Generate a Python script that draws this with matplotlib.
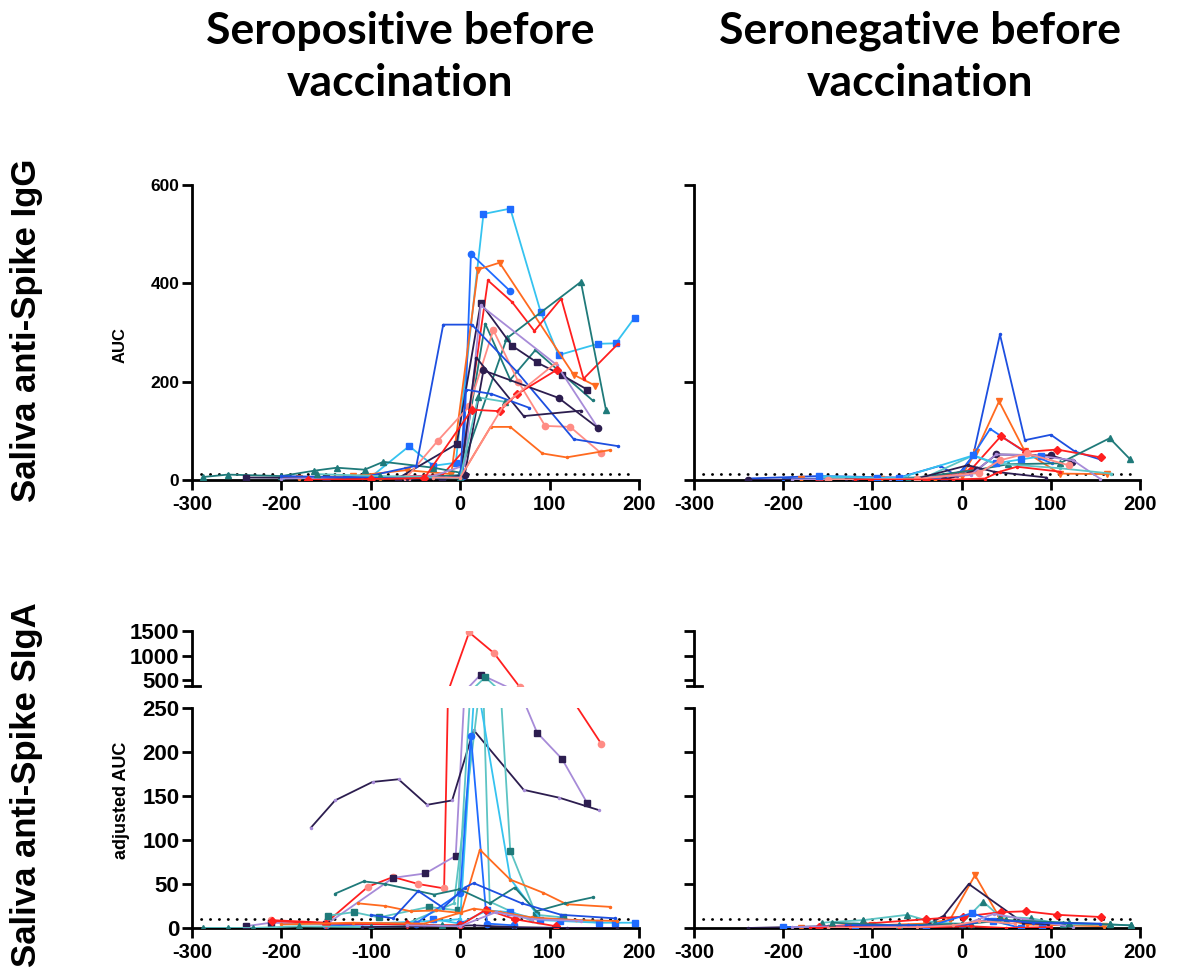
import matplotlib
matplotlib.use("Agg")
import matplotlib.pyplot as plt
from matplotlib.lines import Line2D

# --- colours -------------------------------------------------------------
CYAN = "#35c3f0"
BLUE = "#1d4fe0"
DODGER = "#1f6bff"
ORANGE = "#ff6a1f"
RED = "#ff1f1f"
SALMON = "#ff8c85"
NAVY = "#2c1d4f"
LAVENDER = "#a78bd8"
TEAL = "#1f7a7a"
LTEAL = "#5cc4c4"

# --- saliva anti-Spike IgG, seropositive before vaccination --------------
IGG_POS_DAYS = [
    [-150, -100, -57, -30, -5, 26, 56, 90, 110, 154, 174, 195],
    [-60, -20, 3, 12, 56],
    [-180, -120, -60, -10, 20, 44, 127, 151],
    [-150, -80, -20, 4, 31, 58, 83, 113, 138, 176],
    [-288, -260, -200, -163, -138, -107, -86, -30, 0, 52, 135, 163],
    [-100, -40, 0, 28, 56, 84, 148],
    [-240, -150, -70, -4, 23, 58, 86, 114, 142],
    [-200, -100, -30, 5, 23, 108, 154],
    [-60, -25, 10, 37, 65, 95, 123, 158],
    [-90, 0, 34, 56, 92, 119, 168],
    [-200, -110, -49, -19, 13, 63, 127, 176],
    [-60, 0, 18, 71, 135],
    [-20, 5, 26, 110, 154],
    [-130, 0, 6, 35, 77],
    [-160, -90, 0, 20, 50],
    [-170, -100, -40, 13, 44, 63, 108],
    [-30, 0, 49, 107],
]
IGG_POS_AUC = [
    [4, 6, 69, 29, 35, 541, 552, 342, 254, 277, 278, 330],
    [3, 5, 8, 460, 384],
    [5, 8, 20, 12, 428, 442, 214, 192],
    [3, 6, 10, 60, 406, 362, 303, 369, 206, 276],
    [6, 11, 8, 19, 25, 21, 37, 25, 15, 288, 403, 143],
    [3, 6, 10, 318, 204, 264, 162],
    [5, 4, 3, 73, 360, 273, 239, 213, 184],
    [3, 6, 8, 30, 355, 234, 106],
    [5, 80, 150, 305, 200, 110, 108, 54],
    [3, 5, 108, 108, 54, 46, 61],
    [8, 5, 29, 316, 316, 221, 83, 69],
    [3, 5, 249, 130, 141],
    [3, 10, 223, 167, 106],
    [6, 5, 184, 175, 147],
    [12, 8, 4, 168, 159],
    [0, 2, 4, 143, 140, 174, 224],
    [5, 5, 153, 238],
]
IGG_POS_COLORS = [CYAN, DODGER, ORANGE, RED, TEAL, TEAL, NAVY, LAVENDER, SALMON,
                  ORANGE, BLUE, NAVY, NAVY, BLUE, LTEAL, RED, SALMON]
IGG_POS_MARKERS = ["s", "o", "v", ".", "^", ".", "s", ".", "o",
                   ".", ".", ".", "o", ".", "^", "D", "."]
IGG_POS_MCOLORS = [DODGER, DODGER, ORANGE, RED, TEAL, TEAL, NAVY, LAVENDER, SALMON,
                   ORANGE, BLUE, NAVY, NAVY, BLUE, TEAL, RED, SALMON]

# --- saliva anti-Spike IgG, seronegative before vaccination --------------
IGG_NEG_DAYS = [
    [-240, -160, -70, -24, -5, 13, 43, 71, 100, 127, 155],
    [-180, -90, -30, 0, 16, 42, 71, 110, 163],
    [-200, -100, -20, 2, 32, 71, 101],
    [-160, -100, -40, 10, 44, 72, 107, 156],
    [-150, -60, 15, 52, 110, 166, 189],
    [-240, -120, -20, 17, 39, 100, 124],
    [-190, -80, 10, 39, 84, 125, 155],
    [-160, -90, -40, 13, 36, 110, 168],
    [-130, -50, 7, 36, 95],
    [-160, -95, -70, 13, 39, 67, 89],
    [-150, -50, 20, 43, 73, 120],
    [-120, -10, 26, 43, 62, 110],
]
IGG_NEG_AUC = [
    [3, 8, 5, 29, 8, 50, 296, 81, 92, 58, 42],
    [2, 3, 3, 8, 57, 160, 58, 13, 12],
    [2, 4, 3, 20, 104, 57, 34],
    [2, 1, 3, 20, 89, 57, 62, 46],
    [2, 3, 20, 32, 34, 85, 42],
    [0, 2, 0, 20, 52, 50, 37],
    [1, 2, 10, 52, 50, 40, 3],
    [5, 4, 6, 50, 34, 24, 13],
    [2, 3, 30, 17, 5],
    [8, 5, 4, 50, 34, 42, 48],
    [1, 2, 15, 40, 54, 30],
    [0, 1, 3, 17, 27, 17],
]
IGG_NEG_COLORS = [BLUE, ORANGE, DODGER, RED, TEAL, NAVY, LAVENDER, LTEAL, NAVY,
                  CYAN, SALMON, RED]
IGG_NEG_MARKERS = [".", "v", ".", "D", "^", "o", ".", ".", ".", "s", "o", "."]
IGG_NEG_MCOLORS = [BLUE, ORANGE, DODGER, RED, TEAL, NAVY, LAVENDER, LTEAL, NAVY,
                   DODGER, SALMON, RED]

# --- saliva anti-Spike SIgA, seropositive before vaccination -------------
SIGA_POS_DAYS = [
    [-212, -150, -103, -75, -47, -18, 10, 38, 67, 158],
    [-240, -212, -150, -75, -39, -5, 23, 62, 86, 114, 142],
    [-167, -140, -98, -69, -37, -9, 15, 71, 111, 155],
    [-148, -119, -91, -35, -3, 28, 56, 85, 115],
    [-60, -7, 25, 33, 80],
    [-100, -30, 0, 17, 56, 90, 150],
    [-150, -50, 0, 12, 30, 60],
    [-114, -84, -55, -27, 1, 22, 56, 93, 119, 168],
    [-140, -108, -84, -29, -1, 33, 61, 85, 117, 149],
    [-100, -75, -47, -19, 5, 15, 69, 113, 173],
    [-30, 0, 30, 56, 89, 112, 155, 173, 195],
    [-210, -150, -60, 0, 29, 61, 107],
    [-200, -120, -40, 15, 45, 80, 130, 175],
    [-288, -260, -232, -180, -100, -20],
    [-110, -40, 15, 60, 120, 175],
    [-60, 0, 40, 80, 135],
]
SIGA_POS_AUC = [
    [9, 6, 47, 58, 50, 45, 1473, 1046, 350, 209],
    [2, 6, 4, 57, 62, 82, 613, 280, 222, 192, 142],
    [114, 145, 166, 169, 140, 145, 225, 157, 148, 134],
    [14, 18, 12, 24, 20, 560, 88, 15, 12],
    [5, 28, 300, 30, 8],
    [5, 8, 10, 290, 56, 10, 8],
    [3, 5, 40, 218, 5, 3],
    [28, 25, 19, 20, 17, 89, 55, 40, 27, 24],
    [39, 53, 50, 38, 44, 28, 46, 19, 28, 35],
    [15, 11, 42, 23, 46, 51, 28, 15, 11],
    [10, 5, 20, 18, 9, 8, 6, 6, 6],
    [8, 5, 4, 3, 21, 10, 2],
    [4, 6, 5, 22, 18, 12, 9, 8],
    [0, 0, 0, 2, 1, 3],
    [1, 2, 3, 1, 0, 0],
    [3, 2, 18, 10, 8],
]
SIGA_POS_COLORS = [RED, LAVENDER, NAVY, LTEAL, LTEAL, CYAN, DODGER, ORANGE, TEAL,
                   BLUE, CYAN, RED, ORANGE, LTEAL, NAVY, LAVENDER]
SIGA_POS_MARKERS = ["o", "s", ".", "s", ".", ".", "o", ".", ".",
                    ".", "s", "D", ".", "^", ".", "."]
SIGA_POS_MCOLORS = [SALMON, NAVY, LAVENDER, TEAL, LTEAL, CYAN, DODGER, ORANGE, TEAL,
                    BLUE, DODGER, RED, ORANGE, TEAL, NAVY, LAVENDER]

# --- saliva anti-Spike SIgA, seronegative before vaccination -------------
SIGA_NEG_DAYS = [
    [-180, -100, -40, -13, 15, 43, 73, 160],
    [-240, -150, -45, -20, 8, 69, 97],
    [-157, -110, -61, -30, 0, 24, 43, 78, 114, 166, 190],
    [-160, -40, 2, 44, 72, 107, 156],
    [-200, -120, -40, 12, 35, 67, 90],
    [-190, -100, 0, 36, 70, 125],
    [-145, -70, 10, 50, 120, 166, 190],
    [-130, -60, 0, 30, 80, 155],
    [-170, -125, -70, 10, 50, 100],
    [-150, -50, -10, 20, 60],
]
SIGA_NEG_AUC = [
    [0, 3, 5, 9.5, 60, 11, 4, 2],
    [0, 2, 0, 14, 50, 6, 4],
    [6, 9, 15, 6, 5, 30, 13, 11, 4, 4, 3],
    [1, 10, 13, 18, 19, 15, 12.5],
    [1, 2, 1, 17, 8, 0, 0],
    [1, 2, 3, 16, 10, 1],
    [6, 3, 5, 9, 6, 4, 3],
    [3, 3, 2, 10, 6, 5],
    [0, 1, 0, 2, 0, 1],
    [0, 1, 3, 8, 5],
]
SIGA_NEG_COLORS = [ORANGE, NAVY, LTEAL, RED, DODGER, LAVENDER, TEAL, BLUE, RED, SALMON]
SIGA_NEG_MARKERS = ["v", ".", "^", "D", "s", ".", "^", ".", ".", "."]
SIGA_NEG_MCOLORS = [ORANGE, NAVY, TEAL, RED, DODGER, LAVENDER, TEAL, BLUE, RED, SALMON]

XTICKS = [-300, -200, -100, 0, 100, 200]
IGG_YTICKS = [0, 200, 400, 600]
SIGA_LOW_YTICKS = [0, 50, 100, 150, 200, 250]
SIGA_HIGH_YTICKS = [500, 1000, 1500]
IGG_CUTOFF = 13
SIGA_CUTOFF = 10

plt.rcParams["font.family"] = ["Liberation Sans", "DejaVu Sans"]
plt.rcParams["font.weight"] = "bold"
plt.rcParams["axes.unicode_minus"] = False

W, H = 1178, 975
fig = plt.figure(figsize=(W / 100, H / 100), dpi=100)


def px_axes(x0, x1, ytop, ybot):
    return fig.add_axes([x0 / W, 1 - ybot / H, (x1 - x0) / W, (ybot - ytop) / H])


def style(ax, bottom=True, ylabels=True, yfs=16):
    ax.spines[["top", "right"]].set_visible(False)
    ax.spines["left"].set_linewidth(2)
    ax.spines["bottom"].set_linewidth(2)
    ax.spines["bottom"].set_visible(bottom)
    ax.set_xlim(-300, 200)
    ax.tick_params(width=2, length=7, labelsize=14.5)
    ax.tick_params(axis="y", labelsize=yfs, labelleft=ylabels, pad=2)
    if bottom:
        ax.set_xticks(XTICKS)
    else:
        ax.tick_params(axis="x", bottom=False, labelbottom=False)


def draw(ax, days, vals, colors, markers, mcolors):
    for d, v, c, m, mc in zip(days, vals, colors, markers, mcolors):
        ms = 3 if m == "." else 4.5
        ax.plot(d, v, color=c, lw=1.3, marker=m, ms=ms, mfc=mc, mec=mc, zorder=3)


def cutoff(ax, level):
    ax.plot([-290, 192], [level, level], color="black", lw=2,
            linestyle=(0, (0.1, 3.1)), dash_capstyle="round", zorder=2)


def break_mark(x_px, y_px):
    fig.add_artist(Line2D([(x_px - 7) / W, (x_px + 8) / W], [1 - y_px / H] * 2,
                          color="black", lw=2, transform=fig.transFigure))


# top row: IgG
for x0, x1, days, vals, cols, mks, mcs, lab in [
    (192, 639, IGG_POS_DAYS, IGG_POS_AUC, IGG_POS_COLORS, IGG_POS_MARKERS, IGG_POS_MCOLORS, True),
    (694, 1140, IGG_NEG_DAYS, IGG_NEG_AUC, IGG_NEG_COLORS, IGG_NEG_MARKERS, IGG_NEG_MCOLORS, False),
]:
    ax = px_axes(x0, x1, 185, 480)
    style(ax, ylabels=lab, yfs=12.5)
    ax.set_ylim(0, 600)
    ax.set_yticks(IGG_YTICKS)
    cutoff(ax, IGG_CUTOFF)
    draw(ax, days, vals, cols, mks, mcs)

# bottom row: SIgA with broken y axis
for x0, x1, days, vals, cols, mks, mcs, lab in [
    (192, 639, SIGA_POS_DAYS, SIGA_POS_AUC, SIGA_POS_COLORS, SIGA_POS_MARKERS, SIGA_POS_MCOLORS, True),
    (694, 1140, SIGA_NEG_DAYS, SIGA_NEG_AUC, SIGA_NEG_COLORS, SIGA_NEG_MARKERS, SIGA_NEG_MCOLORS, False),
]:
    hi = px_axes(x0, x1, 631, 686)
    style(hi, bottom=False, ylabels=lab)
    hi.set_ylim(380, 1500)
    hi.set_yticks(SIGA_HIGH_YTICKS)
    hi.patch.set_visible(False)
    draw(hi, days, vals, cols, mks, mcs)
    break_mark(x0, 686)

    lo = px_axes(x0, x1, 708, 928)
    style(lo, ylabels=lab)
    lo.set_ylim(0, 250)
    lo.set_yticks(SIGA_LOW_YTICKS)
    lo.patch.set_visible(False)
    cutoff(lo, SIGA_CUTOFF)
    draw(lo, days, vals, cols, mks, mcs)

# titles and labels
fig.text(400 / W, 1 - 57 / H, "Seropositive before\nvaccination", ha="center", va="center",
         fontsize=32, family="Lato", weight="bold", linespacing=1.35)
fig.text(920 / W, 1 - 57 / H, "Seronegative before\nvaccination", ha="center", va="center",
         fontsize=32, family="Lato", weight="bold", linespacing=1.35)
fig.text(27 / W, 1 - 330 / H, "Saliva anti-Spike IgG", rotation=90, ha="center", va="center",
         fontsize=25)
fig.text(27 / W, 1 - 785 / H, "Saliva anti-Spike SIgA", rotation=90, ha="center", va="center",
         fontsize=25)
fig.text(120 / W, 1 - 345 / H, "AUC", rotation=90, ha="center", va="center", fontsize=12)
fig.text(122 / W, 1 - 800 / H, "adjusted AUC", rotation=90, ha="center", va="center", fontsize=13)

fig.savefig("out.png", dpi=100)
